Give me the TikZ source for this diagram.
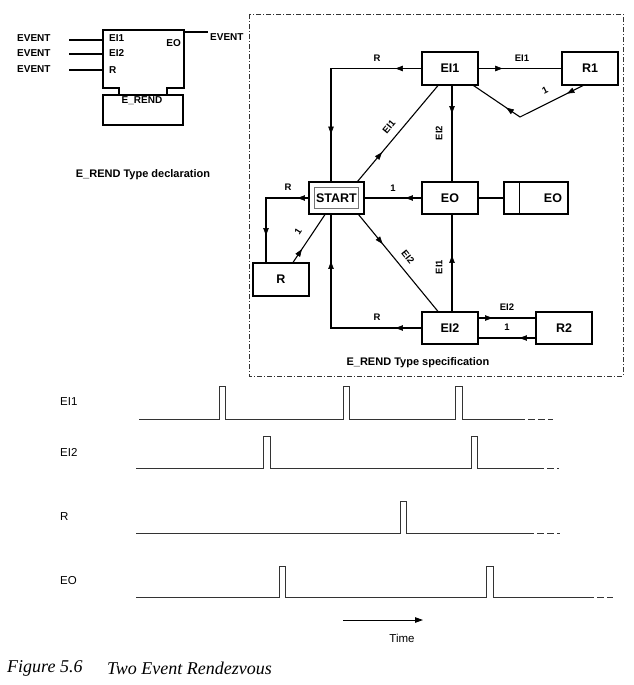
\documentclass[tikz,border=0pt]{standalone}
\usepackage{fontspec}
\setmainfont{Liberation Sans}
\newfontfamily\captionserif{Liberation Serif}
\usetikzlibrary{calc,arrows.meta,decorations.markings}

\tikzset{
  conn/.style={line width=1.1pt},
  tip/.style={postaction={decorate,decoration={markings,
      mark=at position #1 with {\arrow[line width=0.6pt]{Triangle[length=7.5pt,width=5.5pt]}}}}},
  statebox/.style={draw, line width=1.1pt, minimum width=56pt, minimum height=33pt,
      inner sep=0pt, font=\bfseries\fontsize{12.5}{12.5}\selectfont},
  elabel/.style={inner sep=0pt, font=\bfseries\fontsize{9.5}{9.5}\selectfont},
  portlabel/.style={inner sep=0pt, font=\bfseries\fontsize{10}{10}\selectfont},
  caption/.style={inner sep=0pt, font=\bfseries\fontsize{11}{11}\selectfont},
  siglabel/.style={inner sep=0pt, anchor=west, font=\fontsize{11.5}{11.5}\selectfont},
  signal/.style={line width=0.9pt, black!80},
  sigtail/.style={line width=0.9pt, black!80, dash pattern=on 7pt off 3pt},
  frame/.style={line width=0.6pt, black!80, dash pattern=on 5pt off 2pt on 1pt off 2pt},
}

\begin{document}
\begin{tikzpicture}[x=1pt, y=-1pt]
  \useasboundingbox (0,0) rectangle (633,685);

  % ---------- function block type declaration ----------
  \draw[conn] (167,95) -- (167,88) -- (184,88) -- (184,30) -- (103,30)
              -- (103,88) -- (119,88) -- (119,95);
  \node[draw, line width=1.1pt, minimum width=80pt, minimum height=30pt, inner sep=0pt]
    (fbbody) at (143,110) {};
  \node[portlabel] (fbname) at (142,101) {E\_REND};

  \coordinate (pEI1) at (103,40);
  \coordinate (pEI2) at (103,54);
  \coordinate (pR)   at (103,70);
  \coordinate (pEO)  at (184,32);
  \coordinate (in1) at (69,40);
  \coordinate (in2) at (69,54);
  \coordinate (in3) at (69,70);
  \coordinate (out1) at (208,32);

  \node[portlabel, anchor=west] (evt1) at (17,38) {EVENT};
  \node[portlabel, anchor=west] (evt2) at (17,53) {EVENT};
  \node[portlabel, anchor=west] (evt3) at (17,69) {EVENT};
  \node[portlabel, anchor=west] (evt4) at (210,37) {EVENT};
  \draw[conn] (in1) -- (pEI1);
  \draw[conn] (in2) -- (pEI2);
  \draw[conn] (in3) -- (pR);
  \draw[conn] (pEO) -- (out1);

  \node[portlabel, anchor=west] (lEI1) at (109,38) {EI1};
  \node[portlabel, anchor=west] (lEI2) at (109,53) {EI2};
  \node[portlabel, anchor=west] (lR)   at (109,70) {R};
  \node[portlabel, anchor=east] (lEO)  at (181,43) {EO};

  \node[caption] (decl) at (143,175) {E\_REND Type declaration};

  % ---------- execution control chart ----------
  \draw[frame] (249,14) rectangle (623,376);

  \node[statebox] (EI1) at (450,68.5) {EI1};
  \node[statebox] (R1) at (590,68.5) {R1};
  \node[statebox, minimum width=55pt, minimum height=32pt] (START) at (336.5,198) {START};
  \draw[black!55, line width=0.8pt] ($(START.south west)+(6,-6)$) rectangle ($(START.north east)+(-6,6)$);
  \node[statebox, minimum height=32pt] (EO) at (450,198) {EO};
  \node[draw, line width=1.1pt, minimum width=64pt, minimum height=32pt, inner sep=0pt] (EOout) at (536,198) {};
  \draw[conn] ($(EOout.north west)+(16,0)$) -- ($(EOout.south west)+(16,0)$);
  \node[inner sep=0pt, font=\bfseries\fontsize{12.5}{12.5}\selectfont] (EOact) at (553,198) {EO};
  \node[statebox] (R) at (281,279.5) {R};
  \node[statebox, minimum height=32pt] (EI2) at (450,328) {EI2};
  \node[statebox, minimum height=32pt] (R2) at (564,328) {R2};
  \coordinate (bend) at (520,117);

  \draw[conn, tip=24pt] (EI1.east) -- (R1.west);
  \draw[conn, tip=26pt, tip=156pt] (EI1.west) -| ($(START.north)+(-5.5,0)$);
  \draw[conn, tip=38pt] ($(START.north east)+(-7,0)$) -- ($(EI1.south)+(-12,0)$);
  \draw[conn, tip=28pt] ([xshift=2pt]EI1.south) -- ([xshift=2pt]EO.north);
  \draw[conn, tip=18pt, tip=87pt] ($(R1.south)+(-7,0)$) -- (bend) -- ($(EI1.south east)+(-5,0)$);
  \draw[conn, tip=16pt] (EO.west) -- (START.east);
  \draw[conn] (EO.east) -- (EOout.west);
  \draw[conn, tip=11pt, tip=80pt] (START.west) -| ($(R.north)+(-15,0)$);
  \draw[conn, tip=16pt] ($(R.north)+(12,0)$) -- ($(START.south)+(-11.5,0)$);
  \draw[conn, tip=38pt] ($(START.south east)+(-6,0)$) -- ($(EI2.north)+(-12,0)$);
  \draw[conn, tip=56pt] ([xshift=2pt]EI2.north) -- ([xshift=2pt]EO.south);
  \draw[conn, tip=26pt, tip=157pt] (EI2.west) -| ($(START.south)+(-5.5,0)$);
  \draw[conn, tip=14pt] ($(EI2.east)+(0,-10)$) -- ($(R2.west)+(0,-10)$);
  \draw[conn, tip=16pt] ($(R2.west)+(0,10)$) -- ($(EI2.east)+(0,10)$);

  \node[elabel] (t1) at (377,58) {R};
  \node[elabel] (t2) at (522,58) {EI1};
  \node[elabel, rotate=50] (t3) at (389,127) {EI1};
  \node[elabel, rotate=90] (t4) at (439,133) {EI2};
  \node[elabel, rotate=27] (t5) at (545,90) {1};
  \node[elabel] (t6) at (393,188) {1};
  \node[elabel] (t7) at (288,187) {R};
  \node[elabel, rotate=57] (t8) at (298,232) {1};
  \node[elabel, rotate=-51] (t9) at (408,257) {EI2};
  \node[elabel, rotate=90] (t10) at (439,267) {EI1};
  \node[elabel] (t11) at (377,317) {R};
  \node[elabel] (t12) at (507,307) {EI2};
  \node[elabel] (t13) at (507,327) {1};

  \node[caption] (spec) at (418,363) {E\_REND Type specification};

  % ---------- timing diagram ----------
  \node[siglabel] (sEI1) at (60,402) {EI1};
  \node[siglabel] (sEI2) at (60,452) {EI2};
  \node[siglabel] (sR)   at (60,517) {R};
  \node[siglabel] (sEO)  at (60,581) {EO};

  \draw[signal] (139,419) -- (219,419) -- (219,386) -- (225,386) -- (225,419)
     -- (343,419) -- (343,386) -- (349,386) -- (349,419)
     -- (455,419) -- (455,386) -- (462,386) -- (462,419) -- (518,419);
  \draw[sigtail] (518,419) -- (553,419);

  \draw[signal] (136,468) -- (263,468) -- (263,436) -- (270,436) -- (270,468)
     -- (471,468) -- (471,436) -- (477,436) -- (477,468) -- (537,468);
  \draw[sigtail] (537,468) -- (559,468);

  \draw[signal] (136,533) -- (400,533) -- (400,501) -- (406,501) -- (406,533) -- (527,533);
  \draw[sigtail] (527,533) -- (560,533);

  \draw[signal] (136,597) -- (279,597) -- (279,566) -- (285,566) -- (285,597)
     -- (486,597) -- (486,566) -- (493,566) -- (493,597) -- (587,597);
  \draw[sigtail] (587,597) -- (613,597);

  \coordinate (tA) at (343,620);
  \coordinate (tB) at (423,620);
  \draw[line width=1pt, -{Triangle[length=8pt,width=5.5pt]}] (tA) -- (tB);
  \node[inner sep=0pt, font=\fontsize{11.5}{11.5}\selectfont] (time) at (402,638) {Time};

  % ---------- figure caption ----------
  \node[inner sep=0pt, anchor=west, font=\captionserif\itshape\fontsize{18}{18}\selectfont]
    (fignum) at (7,668) {Figure 5.6};
  \node[inner sep=0pt, anchor=west, font=\captionserif\itshape\fontsize{18}{18}\selectfont]
    (figtitle) at (107,668) {Two Event Rendezvous};
\end{tikzpicture}
\end{document}
